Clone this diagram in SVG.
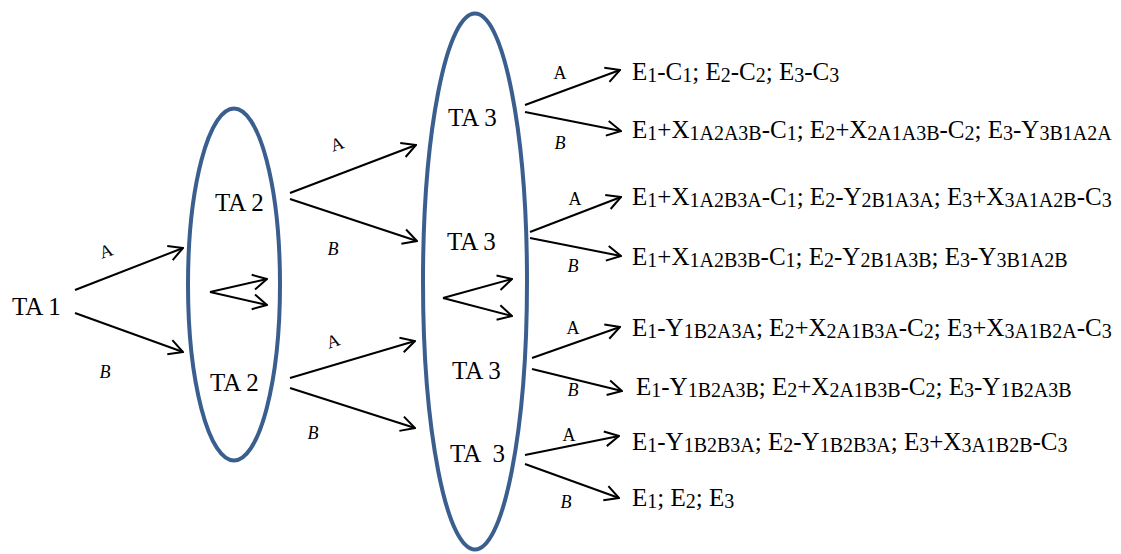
<svg xmlns="http://www.w3.org/2000/svg" width="1121" height="554" viewBox="0 0 1121 554">
<style>
text{font-family:"Liberation Serif","Times New Roman",serif;fill:#000}
.n{font-size:25px}
.r{font-size:25px}
.s{font-size:20px;baseline-shift:-2px}
.lbA{font-size:18px;text-anchor:middle}
.lbB{font-size:18px;font-style:italic;text-anchor:middle}
.ell{fill:none;stroke:#3A5F8F;stroke-width:4}
.c{fill:none;stroke:#000;stroke-width:2;marker-end:url(#ah)}
</style>
<defs>
<marker id="ah" viewBox="0 0 16 18" refX="15" refY="9" markerWidth="16" markerHeight="18" orient="auto" markerUnits="userSpaceOnUse">
<path d="M1,1.5 L15,9 L1,16.5" fill="none" stroke="#000" stroke-width="2"/>
</marker>
</defs>
<rect width="1121" height="554" fill="#fff"/>
<g id="group-ta2"><ellipse class="ell" cx="234" cy="284.5" rx="46" ry="176"/></g>
<g id="group-ta3"><ellipse class="ell" cx="475" cy="281.5" rx="52" ry="268"/></g>
<g id="ta1"><text class="n" x="12" y="315">TA 1</text></g>
<g id="ta2a"><text class="n" x="215" y="211">TA 2</text></g>
<g id="ta2b"><text class="n" x="210" y="391">TA 2</text></g>
<g id="ta3a"><text class="n" x="448" y="126">TA 3</text></g>
<g id="ta3b"><text class="n" x="447" y="250">TA 3</text></g>
<g id="ta3c"><text class="n" x="452" y="379">TA 3</text></g>
<g id="ta3d"><text class="n" x="450" y="462" xml:space="preserve">TA  3</text></g>
<g id="connectors">
<line class="c" x1="75" y1="290" x2="183" y2="248"/>
<line class="c" x1="75" y1="313" x2="183" y2="352"/>
<line class="c" x1="210" y1="292" x2="267" y2="279"/>
<line class="c" x1="210" y1="292" x2="267" y2="305"/>
<line class="c" x1="290" y1="193" x2="416" y2="145"/>
<line class="c" x1="290" y1="199" x2="417" y2="241"/>
<line class="c" x1="290" y1="378" x2="415" y2="341"/>
<line class="c" x1="290" y1="388" x2="415" y2="428"/>
<line class="c" x1="443" y1="298" x2="512" y2="279"/>
<line class="c" x1="443" y1="298" x2="512" y2="316"/>
<line class="c" x1="525" y1="105" x2="620" y2="70"/>
<line class="c" x1="525" y1="112" x2="621" y2="131"/>
<line class="c" x1="530" y1="232" x2="621" y2="197"/>
<line class="c" x1="530" y1="238" x2="621" y2="256"/>
<line class="c" x1="532" y1="358" x2="620" y2="327"/>
<line class="c" x1="532" y1="369" x2="622" y2="391"/>
<line class="c" x1="525" y1="455" x2="619" y2="436"/>
<line class="c" x1="525" y1="464" x2="619" y2="498"/>
</g>
<g id="labels">
<text class="lbA" x="106" y="257" transform="rotate(-18 106 251)">A</text>
<text class="lbB" x="105" y="378">B</text>
<text class="lbA" x="337" y="150" transform="rotate(-18 337 144)">A</text>
<text class="lbB" x="333" y="255">B</text>
<text class="lbA" x="333" y="347" transform="rotate(-18 333 341)">A</text>
<text class="lbB" x="313" y="439">B</text>
<text class="lbA" x="560" y="79">A</text>
<text class="lbB" x="560" y="149">B</text>
<text class="lbA" x="575" y="205">A</text>
<text class="lbB" x="573" y="272">B</text>
<text class="lbA" x="573" y="334">A</text>
<text class="lbB" x="573" y="396">B</text>
<text class="lbA" x="569" y="441">A</text>
<text class="lbB" x="566" y="508">B</text>
</g>
<g id="outcomes">
<text class="r" x="632" y="80">E<tspan class="s">1</tspan>-C<tspan class="s">1</tspan>; E<tspan class="s">2</tspan>-C<tspan class="s">2</tspan>; E<tspan class="s">3</tspan>-C<tspan class="s">3</tspan></text>
<text class="r" x="632" y="138">E<tspan class="s">1</tspan>+X<tspan class="s">1A2A3B</tspan>-C<tspan class="s">1</tspan>; E<tspan class="s">2</tspan>+X<tspan class="s">2A1A3B</tspan>-C<tspan class="s">2</tspan>; E<tspan class="s">3</tspan>-Y<tspan class="s">3B1A2A</tspan></text>
<text class="r" x="632" y="205">E<tspan class="s">1</tspan>+X<tspan class="s">1A2B3A</tspan>-C<tspan class="s">1</tspan>; E<tspan class="s">2</tspan>-Y<tspan class="s">2B1A3A</tspan>; E<tspan class="s">3</tspan>+X<tspan class="s">3A1A2B</tspan>-C<tspan class="s">3</tspan></text>
<text class="r" x="632" y="265">E<tspan class="s">1</tspan>+X<tspan class="s">1A2B3B</tspan>-C<tspan class="s">1</tspan>; E<tspan class="s">2</tspan>-Y<tspan class="s">2B1A3B</tspan>; E<tspan class="s">3</tspan>-Y<tspan class="s">3B1A2B</tspan></text>
<text class="r" x="632" y="336">E<tspan class="s">1</tspan>-Y<tspan class="s">1B2A3A</tspan>; E<tspan class="s">2</tspan>+X<tspan class="s">2A1B3A</tspan>-C<tspan class="s">2</tspan>; E<tspan class="s">3</tspan>+X<tspan class="s">3A1B2A</tspan>-C<tspan class="s">3</tspan></text>
<text class="r" x="636" y="395">E<tspan class="s">1</tspan>-Y<tspan class="s">1B2A3B</tspan>; E<tspan class="s">2</tspan>+X<tspan class="s">2A1B3B</tspan>-C<tspan class="s">2</tspan>; E<tspan class="s">3</tspan>-Y<tspan class="s">1B2A3B</tspan></text>
<text class="r" x="632" y="450">E<tspan class="s">1</tspan>-Y<tspan class="s">1B2B3A</tspan>; E<tspan class="s">2</tspan>-Y<tspan class="s">1B2B3A</tspan>; E<tspan class="s">3</tspan>+X<tspan class="s">3A1B2B</tspan>-C<tspan class="s">3</tspan></text>
<text class="r" x="632" y="506">E<tspan class="s">1</tspan>; E<tspan class="s">2</tspan>; E<tspan class="s">3</tspan></text>
</g>
</svg>
